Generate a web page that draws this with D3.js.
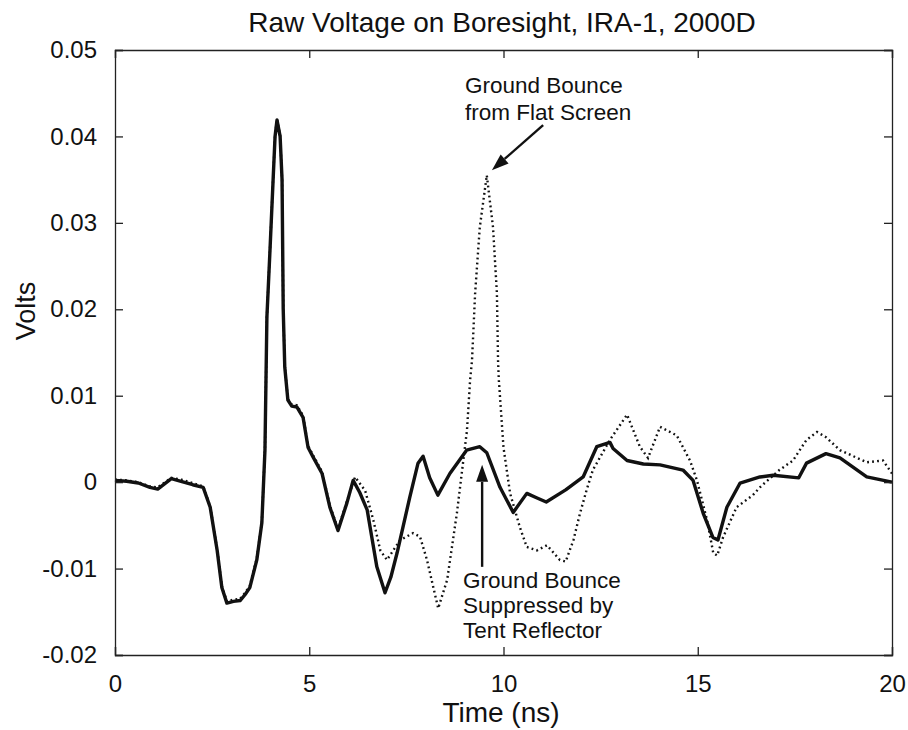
<!DOCTYPE html>
<html>
<head>
<meta charset="utf-8">
<script src="https://cdn.jsdelivr.net/npm/d3@7"></script>
<style>
  html, body { margin: 0; padding: 0; background: #fff; }
  svg text { font-family: "Liberation Sans", Arial, Helvetica, sans-serif; fill: #111; }
</style>
</head>
<body>
<svg id="chart" width="908" height="730"></svg>
<script>
// ---- data ----
const chartTitle = "Raw Voltage on Boresight, IRA-1, 2000D";
const xLabel = "Time (ns)";
const yLabel = "Volts";
const xTicks = [0, 5, 10, 15, 20];
const yTicks = [-0.02, -0.01, 0, 0.01, 0.02, 0.03, 0.04, 0.05];
const yTickLabels = ["-0.02", "-0.01", "0", "0.01", "0.02", "0.03", "0.04", "0.05"];

// Tent reflector (solid)
const tentTime = [0, 0.3, 0.6, 0.9, 1.1, 1.45, 1.7, 2.0, 2.27, 2.45, 2.63, 2.75, 2.88, 3.05, 3.22, 3.35, 3.47, 3.65, 3.78, 3.86, 3.91, 3.99, 4.07, 4.12, 4.17, 4.25, 4.30, 4.33, 4.37, 4.45, 4.55, 4.68, 4.84, 4.97, 5.10, 5.33, 5.53, 5.74, 5.97, 6.13, 6.30, 6.49, 6.74, 6.95, 7.10, 7.26, 7.59, 7.80, 7.93, 8.10, 8.31, 8.62, 9.05, 9.39, 9.57, 9.91, 10.25, 10.6, 10.85, 11.1, 11.6, 12.05, 12.4, 12.74, 12.82, 13.18, 13.6, 14.03, 14.62, 14.88, 15.14, 15.39, 15.52, 15.75, 16.09, 16.6, 16.94, 17.6, 17.8, 18.3, 18.66, 19.35, 20];
const tentVolts = [0.0002, 0.0001, -0.0001, -0.0006, -0.0008, 0.0004, 0.0001, -0.0003, -0.0006, -0.0029, -0.0079, -0.0122, -0.0140, -0.0138, -0.0137, -0.0130, -0.0122, -0.0090, -0.0047, 0.0037, 0.0191, 0.0269, 0.0350, 0.0400, 0.0419, 0.0400, 0.0350, 0.0200, 0.0133, 0.0095, 0.0088, 0.0087, 0.0075, 0.0040, 0.0029, 0.0010, -0.0029, -0.0056, -0.0024, 0.0002, -0.0012, -0.0032, -0.0098, -0.0128, -0.0110, -0.0082, -0.0017, 0.0022, 0.0030, 0.0005, -0.0015, 0.0010, 0.0037, 0.0041, 0.0034, -0.0006, -0.0035, -0.0013, -0.0018, -0.0023, -0.0009, 0.0006, 0.0041, 0.0046, 0.0039, 0.0025, 0.0021, 0.0020, 0.0014, 0.0002, -0.0036, -0.0064, -0.0067, -0.0029, -0.0001, 0.0006, 0.0008, 0.0005, 0.0022, 0.0033, 0.0028, 0.0006, 0.0000];

// Flat screen (dotted)
const flatTime = [0, 0.3, 0.6, 0.9, 1.1, 1.45, 1.7, 2.0, 2.27, 2.45, 2.63, 2.75, 2.88, 3.05, 3.22, 3.35, 3.47, 3.65, 3.78, 3.86, 3.91, 3.99, 4.07, 4.12, 4.17, 4.25, 4.30, 4.33, 4.37, 4.45, 4.55, 4.68, 4.84, 4.97, 5.10, 5.33, 5.53, 5.74, 5.97, 6.18, 6.44, 6.65, 6.83, 7.0, 7.34, 7.67, 7.85, 8.03, 8.19, 8.32, 8.55, 8.8, 9.06, 9.14, 9.19, 9.27, 9.39, 9.57, 9.73, 9.83, 9.86, 9.88, 10.0, 10.17, 10.42, 10.6, 10.86, 11.12, 11.45, 11.6, 11.8, 11.97, 12.14, 12.3, 12.74, 13.18, 13.51, 13.72, 14.03, 14.46, 14.8, 14.98, 15.24, 15.4, 15.5, 15.65, 16.0, 16.42, 16.6, 17.1, 17.45, 17.8, 18.07, 18.3, 18.66, 19.35, 19.77, 20];
const flatVolts = [0.0003, 0.0002, 0.0000, -0.0005, -0.0006, 0.0005, 0.0003, -0.0001, -0.0005, -0.0028, -0.0078, -0.0120, -0.0138, -0.0136, -0.0135, -0.0128, -0.0120, -0.0088, -0.0046, 0.0038, 0.0192, 0.0270, 0.0351, 0.0401, 0.0420, 0.0401, 0.0351, 0.0201, 0.0134, 0.0096, 0.0090, 0.0089, 0.0077, 0.0042, 0.0031, 0.0012, -0.0027, -0.0054, -0.0022, 0.0006, -0.0010, -0.0044, -0.0079, -0.0090, -0.0067, -0.0059, -0.0063, -0.0090, -0.0121, -0.0146, -0.0113, -0.0036, 0.0060, 0.0118, 0.0141, 0.0219, 0.0295, 0.0355, 0.0295, 0.0219, 0.0140, 0.0118, 0.0040, -0.0013, -0.0052, -0.0075, -0.0079, -0.0073, -0.0090, -0.0092, -0.0067, -0.0036, -0.0009, 0.0014, 0.0049, 0.0078, 0.0041, 0.0028, 0.0064, 0.0054, 0.0025, 0.0002, -0.0044, -0.0082, -0.0085, -0.0064, -0.0029, -0.0015, -0.0006, 0.0014, 0.0025, 0.0049, 0.0058, 0.0052, 0.0037, 0.0023, 0.0025, 0.0010];

// annotations
const noteFlatLines = ["Ground Bounce", "from Flat Screen"];
const noteTentLines = ["Ground Bounce", "Suppressed by", "Tent Reflector"];

// ---- layout ----
const svg = d3.select("#chart");
const W = 908, H = 730;
const margin = { left: 115, right: 16, top: 50, bottom: 75 };
const x = d3.scaleLinear().domain([0, 20]).range([margin.left, W - margin.right]);
const y = d3.scaleLinear().domain([-0.02, 0.05]).range([H - margin.bottom, margin.top]);
const axisColor = "#222";
const tickLen = 8;

// lines
const flatData = flatTime.map((t, i) => [t, flatVolts[i]]);
const tentData = tentTime.map((t, i) => [t, tentVolts[i]]);
const line = d3.line().x(d => x(d[0])).y(d => y(d[1]));

svg.append("path").datum(flatData).attr("d", line)
  .attr("fill", "none").attr("stroke", "#111").attr("stroke-width", 2.4)
  .attr("stroke-dasharray", "1.8,3.2").attr("stroke-linecap", "butt");
svg.append("path").datum(tentData).attr("d", line)
  .attr("fill", "none").attr("stroke", "#111").attr("stroke-width", 3.4)
  .attr("stroke-linejoin", "round");

// axes (MATLAB style box, inward ticks)
const gB = svg.append("g").attr("transform", `translate(0,${y(-0.02)})`)
  .call(d3.axisBottom(x).tickValues(xTicks).tickSize(-tickLen).tickPadding(tickLen + 12).tickFormat(d3.format("d")));
const gT = svg.append("g").attr("transform", `translate(0,${y(0.05)})`)
  .call(d3.axisTop(x).tickValues(xTicks).tickSize(-tickLen).tickFormat(""));
const gL = svg.append("g").attr("transform", `translate(${x(0)},0)`)
  .call(d3.axisLeft(y).tickValues(yTicks).tickSize(-tickLen).tickPadding(tickLen + 10)
    .tickFormat(d => yTickLabels[yTicks.indexOf(d)]));
const gR = svg.append("g").attr("transform", `translate(${x(20)},0)`)
  .call(d3.axisRight(y).tickValues(yTicks).tickSize(-tickLen).tickFormat(""));

[gB, gT, gL, gR].forEach(g => {
  g.select(".domain").attr("stroke", axisColor).attr("stroke-width", 1.3);
  g.selectAll(".tick line").attr("stroke", axisColor).attr("stroke-width", 1.3);
  g.selectAll(".tick text").attr("font-size", 24).attr("fill", "#111")
    .attr("font-family", "Liberation Sans, Arial, sans-serif");
});

// titles
svg.append("text").attr("x", 502).attr("y", 32)
  .attr("text-anchor", "middle").attr("font-size", 28).text(chartTitle);
svg.append("text").attr("x", 501).attr("y", 722)
  .attr("text-anchor", "middle").attr("font-size", 28).text(xLabel);
svg.append("text").attr("transform", `translate(35,311) rotate(-90)`)
  .attr("text-anchor", "middle").attr("font-size", 27).text(yLabel);

// annotations
const noteSize = 22.5;
noteFlatLines.forEach((s, i) => {
  svg.append("text").attr("x", x(9.01)).attr("y", y(0.0450) + i * 27)
    .attr("font-size", noteSize).text(s);
});
noteTentLines.forEach((s, i) => {
  svg.append("text").attr("x", x(8.96)).attr("y", y(-0.01227) + i * 25)
    .attr("font-size", noteSize).text(s);
});

// arrows
function arrow(x1, y1, x2, y2) {
  const ang = Math.atan2(y2 - y1, x2 - x1);
  const hl = 17, hw = 6;
  const bx = x2 - hl * Math.cos(ang), by = y2 - hl * Math.sin(ang);
  svg.append("line").attr("x1", x1).attr("y1", y1).attr("x2", bx).attr("y2", by)
    .attr("stroke", "#111").attr("stroke-width", 2.4);
  const px = -Math.sin(ang) * hw, py = Math.cos(ang) * hw;
  svg.append("path")
    .attr("d", `M${x2},${y2}L${bx + px},${by + py}L${bx - px},${by - py}Z`)
    .attr("fill", "#111");
}
arrow(x(11.02), y(0.0413), x(9.70), y(0.0361));
arrow(x(9.45), y(-0.0098), x(9.45), y(0.0020));
</script>
</body>
</html>
